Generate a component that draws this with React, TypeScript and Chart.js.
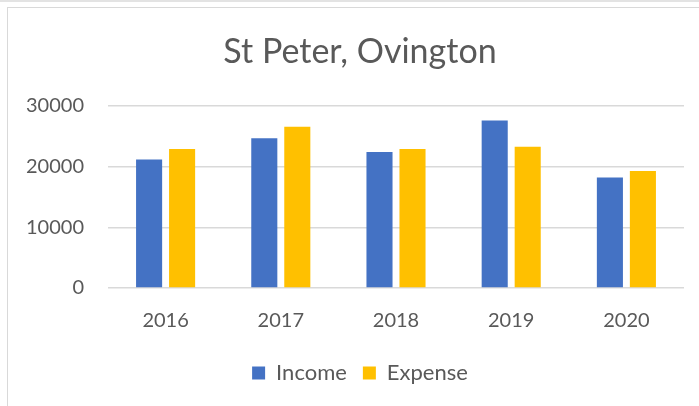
import React, { useEffect, useRef } from "react";
import { Chart, registerables } from "chart.js";

Chart.register(...registerables);

const title = "St Peter, Ovington";
const years = ["2016", "2017", "2018", "2019", "2020"];
const income = [21200, 24700, 22400, 27600, 18200];
const expense = [22900, 26600, 22900, 23300, 19300];
const yTicks = [0, 10000, 20000, 30000];

const FONT = "Lato, 'Open Sans', sans-serif";
const GREY = "#595959";

const titlePlugin = {
  id: "excelTitle",
  afterLayout(chart: any) {
    // let the y tick labels extend left of the axis box without being clipped
    const y = chart.scales.y;
    if (y) y.left = 0;
  },
  afterDraw(chart: any) {
    const ctx = chart.ctx;
    ctx.save();
    ctx.fillStyle = GREY;
    ctx.font = `normal 34px ${FONT}`;
    ctx.textAlign = "center";
    ctx.textBaseline = "middle";
    ctx.fillText(title, 352, 44);
    ctx.restore();
  },
};

export default function App() {
  const ref = useRef<HTMLCanvasElement | null>(null);

  useEffect(() => {
    document.body.style.overflow = "hidden";
    if (!ref.current) return;
    const chart = new Chart(ref.current, {
      type: "bar",
      data: {
        labels: years,
        datasets: [
          {
            label: "Income",
            data: income,
            backgroundColor: "#4472C4",
            categoryPercentage: 0.573,
            barPercentage: 0.79,
          },
          {
            label: "Expense",
            data: expense,
            backgroundColor: "#FFC000",
            categoryPercentage: 0.573,
            barPercentage: 0.79,
          },
        ],
      },
      plugins: [titlePlugin],
      options: {
        animation: false,
        responsive: false,
        maintainAspectRatio: false,
        layout: { padding: { left: 28, right: 42, top: 98, bottom: 32 } },
        plugins: {
          title: { display: false },
          legend: {
            position: "bottom",
            labels: {
              color: GREY,
              font: { family: FONT, size: 22 },
              boxWidth: 13,
              boxHeight: 13,
              padding: 16,
            },
          },
          tooltip: { enabled: false },
        },
        scales: {
          x: {
            grid: { display: false },
            border: { display: false },
            ticks: { color: GREY, font: { family: FONT, size: 20 }, padding: 13 },
          },
          y: {
            min: 0,
            max: 30000,
            afterBuildTicks: (axis: any) => {
              axis.ticks = yTicks.map((v) => ({ value: v }));
            },
            afterFit: (axis: any) => {
              axis.width = 72;
            },
            grid: { color: "#d9d9d9", lineWidth: 1.5, drawTicks: false },
            border: { display: false },
            ticks: {
              color: GREY,
              font: { family: FONT, size: 20 },
              padding: 24,
              callback: (v: any) => String(v),
            },
          },
        },
      },
    });
    return () => chart.destroy();
  }, []);

  return (
    <>
      <div
        style={{
          position: "fixed",
          left: 0,
          top: 0,
          width: 699,
          height: 2,
          background: "#e3e3e3",
        }}
      />
      <div
        style={{
          position: "fixed",
          left: 7,
          top: 7,
          width: 720,
          height: 420,
          border: "1px solid #d9d9d9",
          background: "#fff",
        }}
      >
        <canvas ref={ref} width={718} height={418} style={{ display: "block" }} />
      </div>
    </>
  );
}
